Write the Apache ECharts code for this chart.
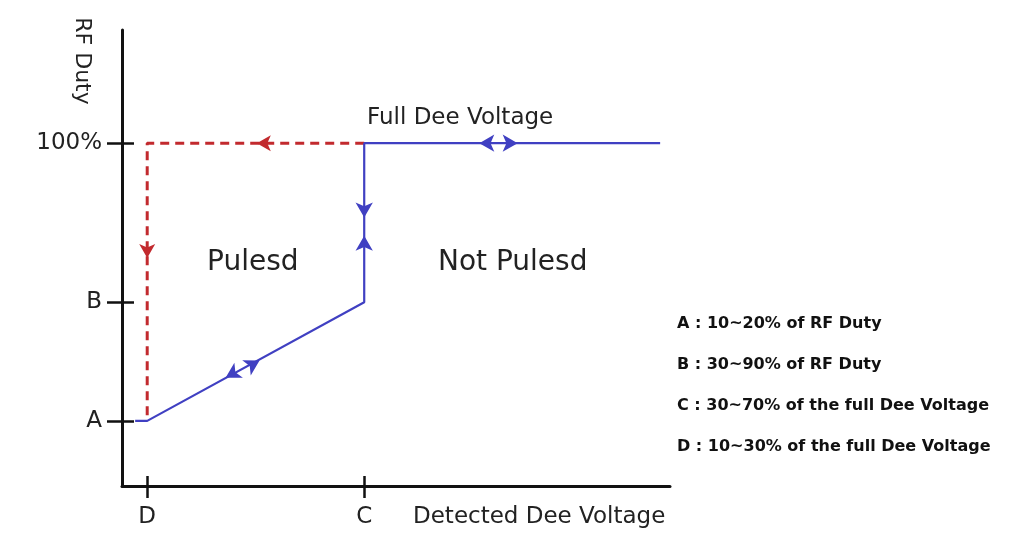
<!DOCTYPE html>
<html>
<head>
	<title>RF Duty</title>
	<meta charset="utf-8" />
	<script type="text/javascript" src="https://cdn.jsdelivr.net/npm/echarts@6/dist/echarts.min.js"></script>
	<style type="text/css">
		html, body{ margin: 0; padding: 0; background: #fff; }
		#container{
			width: 1029px;
			height: 548px;
		}
	</style>
</head>
<body>
<div id="container"></div>
</body>

<script type="text/javascript">
	// tick positions (x: detected dee voltage, y: RF duty)
	var xTickValues = [4.6, 44.2];
	var xTickNames = ['D', 'C'];
	var yTickValues = [19, 53.6, 100];
	var yTickNames = ['A', 'B', '100%'];

	// blue solid path: A -> D -> C(B) -> C(100%) -> end
	var bluePath = [[2.4, 19], [4.6, 19], [44.2, 53.6], [44.2, 100], [98.2, 100]];
	// red dashed path: C(100%) -> D(100%) -> D(A)
	var redPath = [[44.2, 100], [4.6, 100], [4.6, 19]];

	// arrow heads: [x, y, rotate]
	var blueArrows = [
		[65.2, 100, 90],
		[72.2, 100, -90],
		[44.2, 78.3, 180],
		[44.2, 73.0, 0],
		[18.9, 31.6, 119.4],
		[25.1, 36.6, -60.6]
	];
	var redArrows = [
		[24.6, 100, 90],
		[4.6, 66.5, 180]
	];

	var notes = [
		'A : 10~20% of RF Duty',
		'B : 30~90% of RF Duty',
		'C : 30~70% of the full Dee Voltage',
		'D : 10~30% of the full Dee Voltage'
	];

	var FONT = 'DejaVu Sans';
	var BLUE = '#4040c2';
	var RED = '#c22a2e';

	var chart = echarts.init(document.getElementById('container'));

	function pick(names, values){
		return function(v){
			for(var i = 0; i < values.length; i++){
				if(Math.abs(values[i] - v) < 1e-6) return names[i];
			}
			return '';
		};
	}

	function arrowData(list){
		return list.map(function(a){
			return { value: [a[0], a[1]], symbolRotate: a[2] };
		});
	}

	var axisLine = { show: true, lineStyle: { color: '#111', width: 3 } };

	var graphic = [
		{ type: 'text', x: 82, y: 61, rotation: -Math.PI / 2,
			style: { text: 'RF Duty', font: '22px ' + FONT, fill: '#222', textAlign: 'center', textVerticalAlign: 'middle' } },
		{ type: 'text', x: 367, y: 118,
			style: { text: 'Full Dee Voltage', font: '23px ' + FONT, fill: '#222', textAlign: 'left', textVerticalAlign: 'middle' } },
		{ type: 'text', x: 207, y: 263,
			style: { text: 'Pulesd', font: '28px ' + FONT, fill: '#222', textAlign: 'left', textVerticalAlign: 'middle' } },
		{ type: 'text', x: 438, y: 263,
			style: { text: 'Not Pulesd', font: '28px ' + FONT, fill: '#222', textAlign: 'left', textVerticalAlign: 'middle' } },
		{ type: 'text', x: 413, y: 517,
			style: { text: 'Detected Dee Voltage', font: '23px ' + FONT, fill: '#222', textAlign: 'left', textVerticalAlign: 'middle' } }
	];
	for(var i = 0; i < notes.length; i++){
		graphic.push({ type: 'text', x: 677, y: 324 + i * 41,
			style: { text: notes[i], font: 'bold 16px ' + FONT, fill: '#111', textAlign: 'left', textVerticalAlign: 'middle' } });
	}

	var options = {
		animation: false,
		grid: { left: 122, right: 359, top: 30, bottom: 62 },

		xAxis: [
			{
				type: 'value', min: 0, max: 100,
				axisLine: axisLine,
				splitLine: { show: false },
				axisTick: { show: true, customValues: xTickValues, length: 12, lineStyle: { color: '#111', width: 2.5 } },
				axisLabel: { show: true, customValues: xTickValues, formatter: pick(xTickNames, xTickValues), margin: 20,
					fontFamily: FONT, fontSize: 23, color: '#222' }
			},
			{
				type: 'value', min: 0, max: 100, position: 'bottom',
				axisLine: { show: false },
				splitLine: { show: false },
				axisTick: { show: true, inside: true, customValues: xTickValues, length: 10, lineStyle: { color: '#111', width: 2.5 } },
				axisLabel: { show: false }
			}
		],

		yAxis: [
			{
				type: 'value', min: 0, max: 133,
				axisLine: axisLine,
				splitLine: { show: false },
				axisTick: { show: true, customValues: yTickValues, length: 15, lineStyle: { color: '#111', width: 2.5 } },
				axisLabel: { show: true, customValues: yTickValues, formatter: pick(yTickNames, yTickValues), margin: 20,
					fontFamily: FONT, fontSize: 23, color: '#222' }
			},
			{
				type: 'value', min: 0, max: 133, position: 'left',
				axisLine: { show: false },
				splitLine: { show: false },
				axisTick: { show: true, inside: true, customValues: yTickValues, length: 12, lineStyle: { color: '#111', width: 2.5 } },
				axisLabel: { show: false }
			}
		],

		graphic: graphic,

		series: [
			{
				name: 'red',
				type: 'line',
				data: redPath,
				symbol: 'none',
				lineStyle: { color: RED, width: 3, type: [9, 6] },
				z: 3
			},
			{
				name: 'blue',
				type: 'line',
				data: bluePath,
				symbol: 'none',
				lineStyle: { color: BLUE, width: 2.2 },
				z: 4
			},
			{
				name: 'redArrows',
				type: 'scatter',
				data: arrowData(redArrows),
				symbol: 'arrow',
				symbolSize: [12, 14],
				itemStyle: { color: RED, opacity: 1 },
				z: 5
			},
			{
				name: 'blueArrows',
				type: 'scatter',
				data: arrowData(blueArrows),
				symbol: 'arrow',
				symbolSize: [13, 15],
				itemStyle: { color: BLUE, opacity: 1 },
				z: 5
			}
		]
	};

	chart.setOption(options);
</script>

</html>
